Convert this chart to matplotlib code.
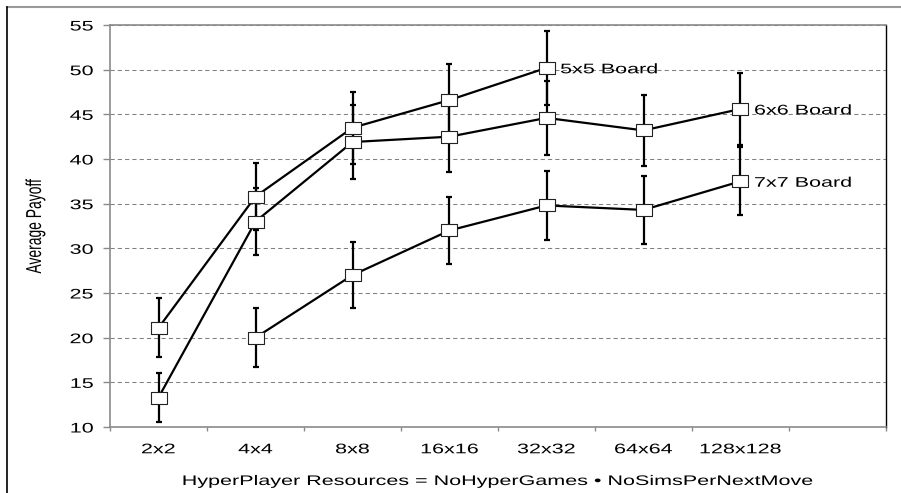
import matplotlib
matplotlib.use('Agg')
import matplotlib.pyplot as plt
import numpy as np
from matplotlib.patheffects import AbstractPathEffect
from matplotlib.transforms import Affine2D
from matplotlib.lines import Line2D

plt.rcParams['font.family'] = ['Liberation Sans', 'DejaVu Sans']

# ---------------- data ----------------
categories = ['2x2', '4x4', '8x8', '16x16', '32x32', '64x64', '128x128']

board5_cats = ['2x2', '4x4', '8x8', '16x16', '32x32']
board5_mean = [21.1, 35.8, 43.5, 46.6, 50.2]
board5_err = [3.3, 3.8, 4.05, 4.0, 4.1]

board6_cats = ['2x2', '4x4', '8x8', '16x16', '32x32', '64x64', '128x128']
board6_mean = [13.3, 33.0, 41.9, 42.5, 44.6, 43.2, 45.6]
board6_err = [2.7, 3.7, 4.1, 4.0, 4.1, 4.0, 4.0]

board7_cats = ['4x4', '8x8', '16x16', '32x32', '64x64', '128x128']
board7_mean = [20.0, 27.0, 32.0, 34.8, 34.3, 37.5]
board7_err = [3.3, 3.7, 3.8, 3.9, 3.85, 3.8]

series_labels = ['5x5 Board', '6x6 Board', '7x7 Board']
yticks = [10, 15, 20, 25, 30, 35, 40, 45, 50, 55]
xlabel = 'HyperPlayer Resources = NoHyperGames \u2022 NoSimsPerNextMove'
ylabel = 'Average Payoff'


class HStretch(AbstractPathEffect):
    """Draw the text path widened horizontally about an anchor."""
    def __init__(self, sx=1.55, anchor='center'):
        super().__init__((0, 0))
        self.sx = sx
        self.anchor = anchor

    def draw_path(self, renderer, gc, tpath, affine, rgbFace=None):
        bb = tpath.get_extents(affine)
        if self.anchor == 'left':
            a = bb.x0
        elif self.anchor == 'right':
            a = bb.x1
        else:
            a = 0.5 * (bb.x0 + bb.x1)
        st = Affine2D().translate(-a, 0).scale(self.sx, 1).translate(a, 0)
        renderer.draw_path(gc, tpath, affine + st, rgbFace)


W, H = 901, 493
fig = plt.figure(figsize=(W / 100, H / 100), dpi=100)
L, R, T, B = 110, 886, 25, 427
ax = fig.add_axes([L / W, 1 - B / H, (R - L) / W, (B - T) / H])

gray = '#8a8a8a'
ax.set_ylim(10, 55)
ax.set_yticks(yticks)
ax.set_xlim(-0.5, 7.5)
ax.set_xticks(np.arange(-0.5, 8.0, 1.0))
ax.set_xticklabels([])
ax.set_xticks(range(len(categories)), minor=True)
ax.set_xticklabels(categories, minor=True)

ax.tick_params(axis='y', direction='out', length=5, width=1, color=gray,
               pad=7, labelsize=10)
ax.tick_params(axis='x', which='major', direction='out', length=3, width=1,
               color=gray)
ax.tick_params(axis='x', which='minor', length=0, pad=11, labelsize=10)

ax.set_axisbelow(True)
ax.yaxis.grid(True, color='#808080', lw=0.75, linestyle=(0, (4, 3)))

for s in ['top', 'left', 'bottom']:
    ax.spines[s].set_color(gray)
    ax.spines[s].set_linewidth(1.2)
ax.spines['right'].set_color('black')
ax.spines['right'].set_linewidth(1.0)

rect = [(-1, -0.72), (1, -0.72), (1, 0.72), (-1, 0.72), (-1, -0.72)]


def xi(cats):
    return [categories.index(c) for c in cats]


all_series = [(board5_cats, board5_mean, board5_err),
              (board6_cats, board6_mean, board6_err),
              (board7_cats, board7_mean, board7_err)]

for cats, mean, err in all_series:
    x = xi(cats)
    ax.errorbar(x, mean, yerr=err, fmt='none', ecolor='black',
                elinewidth=1.6, capsize=2.5, capthick=1.6, zorder=3)
    ax.plot(x, mean, color='black', lw=1.6, marker=rect, ms=11.5,
            mfc='white', mec='#222222', mew=0.8, zorder=4)

for (cats, mean, err), lab in zip(all_series, series_labels):
    x = xi(cats)
    ax.annotate(lab, xy=(x[-1], mean[-1]), xytext=(10, -1),
                textcoords='offset points', ha='left', va='center',
                fontsize=10, path_effects=[HStretch(anchor='left')], zorder=5)

ax.set_xlabel(xlabel, fontsize=10)
ax.xaxis.label.set_va('center')
ax.xaxis.set_label_coords(0.5, (B - 481) / (B - T))
ax.xaxis.label.set_path_effects([HStretch(anchor='center')])

ax.set_ylabel(ylabel, fontsize=10)
ax.yaxis.label.set_va('center')
ax.yaxis.set_label_coords((35 - L) / (R - L), 0.5)
ax.yaxis.label.set_path_effects([HStretch(anchor='center')])

for lab in ax.get_yticklabels():
    lab.set_path_effects([HStretch(anchor='right')])
for lab in ax.get_xticklabels(minor=True):
    lab.set_path_effects([HStretch(anchor='center')])

fig.add_artist(Line2D([7 / W, 1], [1 - 7 / H, 1 - 7 / H],
                      transform=fig.transFigure, color='#9a9a9a', lw=1.5))
fig.add_artist(Line2D([7 / W, 7 / W], [0, 1 - 7 / H],
                      transform=fig.transFigure, color='black', lw=1.2))

fig.savefig('out.png', dpi=100)
